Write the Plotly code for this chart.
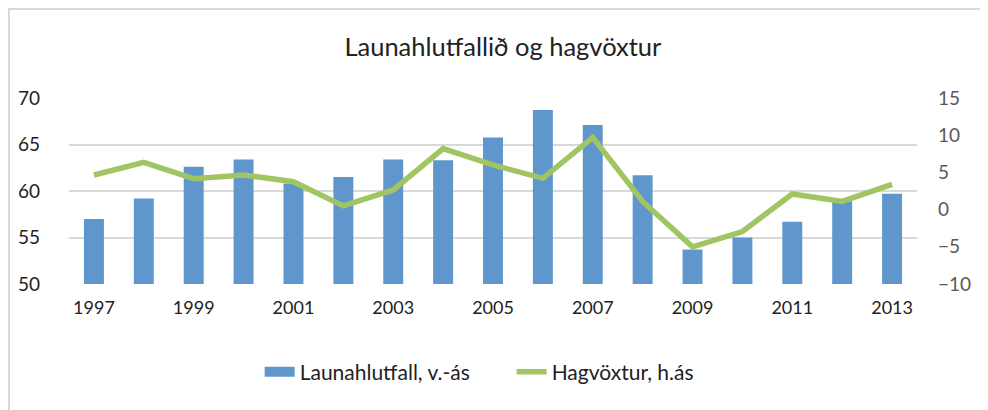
import plotly.graph_objects as go

years = list(range(1997, 2014))
launahlutfall = [57.0, 59.2, 62.6, 63.4, 60.8, 61.5, 63.4, 63.3, 65.75, 68.7, 67.1, 61.7, 53.7, 55.0, 56.7, 58.9, 59.7]
hagvoxtur = [4.65, 6.35, 4.16, 4.65, 3.75, 0.5, 2.64, 8.2, 6.0, 4.2, 9.7, 1.1, -5.0, -2.95, 2.1, 1.1, 3.4]
x_ticks = [1997, 1999, 2001, 2003, 2005, 2007, 2009, 2011, 2013]
left_ticks = [50, 55, 60, 65, 70]
right_ticks = [-10, -5, 0, 5, 10, 15]

FONT = "Lato"
BLUE = "#5F97CD"
GREEN = "#A2C563"

# the page body has an 8px default margin, so the figure is sized 8px smaller
W, H = 980, 402

fig = go.Figure()
fig.add_trace(go.Bar(
    x=years, y=launahlutfall, name="Launahlutfall, v.-ás", showlegend=False,
    marker=dict(color=BLUE, line=dict(width=0)), width=0.4,
))
# legend entry styled like the reference's wide rectangle swatch
fig.add_trace(go.Scatter(
    x=[None], y=[None], name="Launahlutfall, v.-ás", mode="lines",
    line=dict(color=BLUE, width=12),
))
fig.add_trace(go.Scatter(
    x=years, y=hagvoxtur, name="Hagvöxtur, h.ás", yaxis="y2",
    mode="lines", line=dict(color=GREEN, width=5.5),
))

fig.update_layout(
    width=W, height=H,
    margin=dict(l=61, r=71, t=90, b=126, autoexpand=False),
    paper_bgcolor="white", plot_bgcolor="white",
    font=dict(family=FONT, size=17, color="#222222"),
    title=dict(text="Launahlutfallið og hagvöxtur", x=0.505, xanchor="center",
               y=1 - 39 / H, yanchor="middle", yref="container",
               font=dict(family=FONT, size=25.5, color="#222222")),
    xaxis=dict(range=[1996.5, 2013.5], tickmode="array", tickvals=x_ticks,
               ticktext=[str(t) for t in x_ticks], showgrid=False,
               showline=False, ticks="", ticklabelstandoff=11,
               tickfont=dict(size=18, color="#222222")),
    yaxis=dict(range=[50, 70], tickmode="array", tickvals=left_ticks,
               showgrid=True, gridcolor="#D9D9D9", gridwidth=1.5, zeroline=False,
               ticks="", ticklabelstandoff=28, tickfont=dict(size=19, color="#222222")),
    yaxis2=dict(range=[-10, 15], tickmode="array", tickvals=right_ticks,
                overlaying="y", side="right", showgrid=False, zeroline=False,
                ticks="", ticklabelstandoff=20, tickfont=dict(size=19, color="#595959")),
    legend=dict(orientation="h", x=0.522, xanchor="center", y=-0.473, yanchor="middle",
                font=dict(size=21, color="#222222"),
                entrywidth=207, entrywidthmode="pixels",
                traceorder="normal"),
    shapes=[dict(type="rect", xref="paper", yref="paper",
                 x0=-60/848, x1=1 + 69/848, y0=-140/186, y1=1 + 89/186,
                 line=dict(color="#D9D9D9", width=2), fillcolor="rgba(0,0,0,0)",
                 layer="below")],
)

fig.write_html("out.html")
